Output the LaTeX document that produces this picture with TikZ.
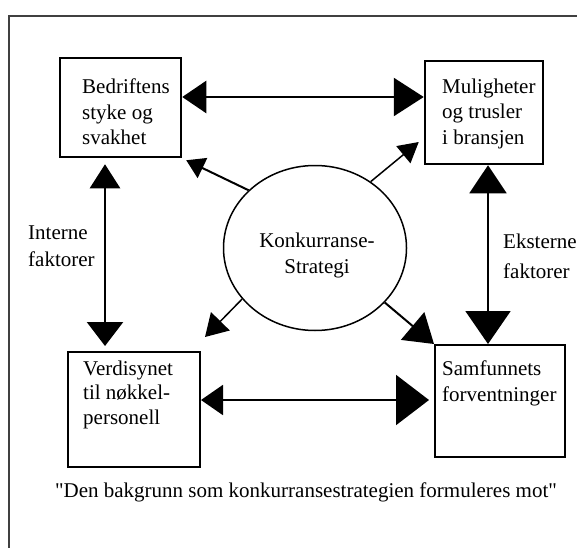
\documentclass[tikz,border=0pt]{standalone}
\usepackage{fontspec}
\setmainfont{Liberation Serif}
\usetikzlibrary{arrows.meta,shapes.geometric}

\begin{document}
\begin{tikzpicture}[x=1pt,y=-1pt,
    box/.style={draw, fill=white, line width=2.5pt, inner sep=0pt},
    txt/.style={anchor=north west, inner sep=0pt, align=left, font=\fontsize{21}{25.5}\selectfont},
    link/.style={line width=2.5pt},
    ray/.style={line width=2pt}]
    \useasboundingbox (0,0) rectangle (577,548);
    \draw[line width=1.5pt, black!75] (577,16) -- (9,16) -- (9,548);

    \node[box, minimum width=121pt, minimum height=99pt] (bed) at (120.5,107.5) {};
    \node[box, minimum width=118pt, minimum height=103pt] (mul) at (484,112.5) {};
    \node[box, line width=2pt, minimum width=132pt, minimum height=115pt] (verd) at (134,409.5) {};
    \node[box, line width=2pt, minimum width=130pt, minimum height=112pt] (samf) at (500,401) {};
    \node[draw, ellipse, line width=1.5pt, minimum width=183pt, minimum height=165pt] (strat) at (315,248) {};

    \node[txt] (bedT) at (82,78.7) {Bedriftens\\styke og\\svakhet};
    \node[txt] (mulT) at (442,78.7) {Muligheter\\og trusler\\i bransjen};
    \node[txt, font=\fontsize{21}{24.5}\selectfont] (verdT) at (83,360.7) {Verdisynet\\til nøkkel-\\personell};
    \node[txt] (samfT) at (442,360.7) {Samfunnets\\forventninger};
    \node[txt, align=center, anchor=center, font=\fontsize{21}{26}\selectfont] (stratT) at (317,255) {Konkurranse-\\Strategi};
    \node[txt, font=\fontsize{21}{27}\selectfont] (intT) at (28,226) {Interne\\faktorer};
    \node[txt, font=\fontsize{21}{30}\selectfont] (ekstT) at (503,233.7) {Eksterne\\faktorer};
    \node[anchor=base, inner sep=0pt, font=\fontsize{21}{25}\selectfont] (quote) at (306,497) {\textquotedbl Den bakgrunn som konkurransestrategien formuleres mot\textquotedbl};

    \draw[link, {Triangle[length=24pt,width=32pt]}-{Triangle[length=30pt,width=38pt]}] ([yshift=10.5pt]bed.east) -- ([yshift=10.5pt]bed.east -| mul.west);
    \draw[link, shorten <=6pt, shorten >=5pt, {Triangle[length=24pt,width=30pt]}-{Triangle[length=24pt,width=36pt]}] ([xshift=-15.5pt]bed.south) -- ([xshift=-15.5pt]bed.south |- verd.north);
    \draw[link, line width=2pt, {Triangle[length=28pt,width=37pt]}-{Triangle[length=33pt,width=45pt]}] ([xshift=4pt]mul.south) -- ([xshift=4pt]mul.south |- samf.north);
    \draw[link, line width=2pt, shorten >=5pt, {Triangle[length=22pt,width=30pt]}-{Triangle[length=33pt,width=50pt]}] ([yshift=9.5pt]verd.east) -- ([yshift=9.5pt]verd.east -| samf.west);

    \draw[ray, -{Triangle[length=18pt,width=22pt]}] (strat.139) -- ([xshift=4pt,yshift=-2pt]bed.south east);
    \draw[ray, line width=1.5pt, -{Triangle[length=20pt,width=22pt]}] (strat.50) -- ([xshift=-5pt,yshift=-29.5pt]mul.west);
    \draw[ray, line width=1.5pt, -{Triangle[length=22pt,width=26pt]}] (strat.215) -- ([xshift=4pt,yshift=14pt]verd.north east);
    \draw[ray, -{Triangle[length=28pt,width=36pt]}] (strat.322) -- (samf.north west);
\end{tikzpicture}
\end{document}
